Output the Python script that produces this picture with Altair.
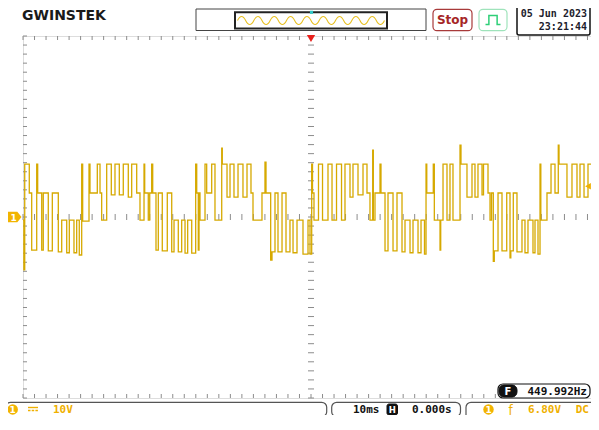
import altair as alt
import pandas as pd

# ---- CH1 trace: time (ms) and level (V), step-wise ----
t_ms = [
    0.0, 0.15, 0.3, 1.09, 1.51, 2.38, 2.55, 3.25, 3.52, 4.39, 5.09, 6.13, 6.72, 7.59, 8.04, 8.85, 9.32, 9.77,
    10.19, 10.36, 11.46, 11.63, 12.90, 13.37, 13.66, 14.53, 15.33, 15.97, 16.72, 17.41, 18.28, 18.87, 19.74,
    20.31, 21.01, 21.13, 21.75, 22.00, 22.34, 22.52,
    23.09, 23.49, 24.18, 25.05, 25.82, 26.22, 26.96, 27.55, 28.13, 28.59, 29.29,
    29.98, 30.16, 30.43, 30.56, 30.73, 31.60, 31.89, 32.76, 33.33, 34.50, 34.60, 35.42, 35.94, 36.63, 37.33,
    38.19, 38.89, 39.58, 39.93, 41.49, 42.01, 42.19,
    43.00, 43.23, 43.75, 44.27, 44.97, 45.66, 46.35, 46.88, 47.57, 48.61, 49.48, 49.83,
    50.12, 50.26, 50.52, 51.30, 52.00, 52.95, 53.65, 54.43, 55.30, 55.90, 56.77, 57.29, 58.16, 59.03, 59.72,
    60.24, 60.71, 60.82, 61.11, 61.98, 62.15,
    62.85, 63.37, 64.24, 64.93, 65.80, 66.32, 67.19, 67.71, 68.58, 69.10, 69.70,
    69.97, 70.10, 71.23, 71.41, 72.40, 72.52, 72.92, 73.61, 74.13, 74.65, 75.87, 76.04, 77.08, 77.95, 78.47,
    78.99, 79.69, 79.95, 80.73, 81.08, 81.34,
    81.65, 81.82, 82.47, 83.16, 83.98, 84.55, 84.69, 85.12, 85.76, 86.63, 87.15, 87.67, 88.54, 88.89, 89.41,
    89.76, 89.90, 90.97, 91.67, 92.36, 92.93, 93.06, 94.44, 95.31, 96.18, 96.70, 97.40, 98.09, 99.31, 100.0]
volts = [
    -0.7, -11.7, 11.7, 5.3, -7.3, 11.7, 5.3, -7.3, 5.3, -7.5, 5.3, -7.7, -0.7, -7.9, -0.7, -7.9, -0.7, -8.4,
    11.7, -0.9, 11.7, 5.3, 11.7, 5.3, -0.7, 11.7, 4.9, 11.7, 4.9, 11.7, 4.4, 11.7, 5.3,
    -0.7, 11.7, 5.3, -0.7, 5.3, 11.7, 5.3,
    -7.3, 5.3, -7.5, 5.3, -7.7, -0.7, -7.7, -0.7, -8.0, -0.7, -8.0,
    11.7, 5.3, -7.3, 5.3, -0.7, 11.7, 5.3, 11.7, -0.7, 15.2, 11.7, 4.4, 11.7, 4.4, 11.7,
    4.4, 11.7, 5.3, -0.7, 5.3, 12.1, 5.3,
    -9.5, -7.7, 5.3, -7.7, 5.3, -7.7, -0.7, -7.9, -0.7, -8.2, -0.7, -8.2,
    11.7, 5.3, -0.7, 11.7, -0.7, 11.7, -0.7, 11.7, -0.7, 11.7, 4.4, 11.7, 4.9, 11.7, 5.3,
    -0.7, 14.8, -0.7, 5.3, 11.7, 5.3,
    -7.5, 5.3, -7.5, 5.3, -7.7, -0.7, -7.9, -0.7, -7.9, -0.7, -8.2,
    11.7, 5.3, 11.7, -0.7, -7.3, -0.7, 11.7, -0.7, 11.7, -0.7, 15.9, 11.7, 4.4, 11.7, 4.4,
    11.7, 4.9, 11.7, 5.3, -0.7, 5.3,
    -9.8, -7.5, 5.3, -7.5, 5.3, -9.0, -7.5, 5.3, -7.7, -0.7, -7.9, -0.7, -7.9, -0.7, -8.2,
    11.7, -0.7, 5.3, 11.7, 5.3, 15.9, 11.7, 4.4, 11.7, 4.4, 11.7, 4.4, 11.7, 5.3, 5.3]

# ---- screen texts ----
brand = "GWINSTEK"
run_state = "Stop"
date_str = "05 Jun 2023"
clock_str = "23:21:44"
ch1_scale = "10V"
timebase = "10ms"
h_pos = "0.000s"
trig_level_txt = "6.80V"
coupling = "DC"
freq_txt = "449.992Hz"

# ---- screen geometry: 10 x 10 ms, 8 x 10 V ----
t_domain = [0, 100]
v_domain = [-40, 40]
t_major = [0, 10, 20, 30, 40, 50, 60, 70, 80, 90, 100]
v_major = [-40, -30, -20, -10, 0, 10, 20, 30, 40]
t_minor = [i * 2 for i in range(51)]
v_minor = [-40 + i * 2 for i in range(41)]
trig_pos_ms = 50
trig_level_v = 6.8

W, H = 576, 362
OX, OY = 23, 36  # page position of the plot origin


def px(x):
    return x - OX


def py(y):
    return y - OY


one = pd.DataFrame({"k": [0]})
xs = alt.Scale(domain=t_domain, nice=False, zero=False)
ys = alt.Scale(domain=v_domain, nice=False, zero=False)

TRACE = "#d6a900"
YEL = "#efb000"


def rect(x1, y1, x2, y2, stroke="#555", sw=1.0, r=0, fill="white"):
    return alt.Chart(one).mark_rect(cornerRadius=r, fill=fill, stroke=stroke, strokeWidth=sw).encode(
        x=alt.value(px(x1)), x2=alt.value(px(x2)), y=alt.value(py(y1)), y2=alt.value(py(y2)))


def text(x, y, s, color="#111", size=11, align="left", weight="bold", font="DejaVu Sans Mono", **kw):
    return alt.Chart(one).mark_text(text=s, color=color, fontSize=size, align=align, baseline="middle",
                                    fontWeight=weight, font=font, **kw).encode(
        x=alt.value(px(x)), y=alt.value(py(y)))


def sym(x, y, shape, size, fill=None, stroke=None, sw=1.0):
    kw = dict(shape=shape, size=size, opacity=1)
    if fill:
        kw.update(filled=True, fill=fill)
    else:
        kw.update(filled=False, fill="transparent")
    if stroke:
        kw.update(stroke=stroke, strokeWidth=sw)
    else:
        kw.update(strokeWidth=0)
    return alt.Chart(one).mark_point(**kw).encode(x=alt.value(px(x)), y=alt.value(py(y)))


def hline(x1, x2, y, color, sw=1.0, dash=None):
    kw = dict(color=color, strokeWidth=sw)
    if dash:
        kw.update(strokeDash=dash)
    return alt.Chart(one).mark_rule(**kw).encode(x=alt.value(px(x1)), x2=alt.value(px(x2)), y=alt.value(py(y)))


layers = []

# ---- graticule ----
wave_df = pd.DataFrame({"t": t_ms, "v": volts})
base = alt.Chart(wave_df).mark_line(interpolate="step-after", color=TRACE, strokeWidth=1.3, clip=True).encode(
    x=alt.X("t:Q", scale=xs, axis=alt.Axis(values=t_major, grid=True, gridDash=[1, 8.05], gridColor="#8c8c8c",
                                            labels=False, ticks=False, domain=False, title=None)),
    y=alt.Y("v:Q", scale=ys, axis=alt.Axis(values=v_major, grid=True, gridDash=[1, 10.52], gridColor="#8c8c8c",
                                            labels=False, ticks=False, domain=False, title=None)),
)

tdf = pd.DataFrame({"t": t_minor})
vdf = pd.DataFrame({"v": v_minor})
tick_col = "#8c8c8c"
tx = alt.X("t:Q", scale=xs, axis=None)
vy = alt.Y("v:Q", scale=ys, axis=None)
layers += [
    alt.Chart(tdf).mark_rule(color=tick_col).encode(x=tx, y=alt.value(0), y2=alt.value(4)),
    alt.Chart(tdf).mark_rule(color=tick_col).encode(x=tx, y=alt.value(H - 4), y2=alt.value(H)),
    alt.Chart(tdf).mark_rule(color=tick_col).encode(x=tx, y=alt.value(H / 2 - 3), y2=alt.value(H / 2 + 3)),
    alt.Chart(vdf).mark_rule(color=tick_col).encode(y=vy, x=alt.value(0), x2=alt.value(4)),
    alt.Chart(vdf).mark_rule(color=tick_col).encode(y=vy, x=alt.value(W - 4), x2=alt.value(W)),
    alt.Chart(vdf).mark_rule(color=tick_col).encode(y=vy, x=alt.value(W / 2 - 3), x2=alt.value(W / 2 + 3)),
]
layers.append(base)

# trigger position (top) and trigger level (right)
layers.append(alt.Chart(pd.DataFrame({"t": [trig_pos_ms]})).mark_point(
    shape="triangle-down", filled=True, fill="#e8201c", size=70, opacity=1, strokeWidth=0).encode(
    x=tx, y=alt.value(py(38.5))))
layers.append(alt.Chart(pd.DataFrame({"v": [trig_level_v]})).mark_point(
    shape="triangle-left", filled=True, fill=YEL, size=45, opacity=1, strokeWidth=0).encode(
    y=vy, x=alt.value(px(588))))

# channel 1 ground tag
layers.append(sym(14.5, 217, "M-1,-0.75 L0.4,-0.75 L1,0 L0.4,0.75 L-1,0.75 Z", 196, fill="#f2b400"))
layers.append(text(13.5, 217.5, "1", color="white", size=9, align="center", font="DejaVu Sans"))

# ---- header ----
layers.append(text(22, 16, brand, color="#1a1a1a", size=14, font="DejaVu Sans", weight="bold"))
layers.append(rect(196, 9, 426, 30.5, stroke="#444", sw=1))
layers.append(rect(235, 12.3, 387, 28.5, stroke="#222", sw=2))
wave_icon = "M-1,0 " + "Q-0.9444,-0.11 -0.8889,0 " + " ".join(
    "T%.4f,0" % (-0.8889 + 0.1111 * (i + 1)) for i in range(17))
layers.append(sym(311, 20.5, wave_icon, 147 ** 2, stroke="#e8c020", sw=1.1))
layers.append(sym(311.5, 12.3, "square", 10, fill="#30c8c8"))

layers.append(rect(433, 9.3, 472, 30.7, stroke="#a83a3a", sw=1.2, r=4))
layers.append(text(452.5, 20, run_state, color="#a52626", size=12, align="center", font="DejaVu Sans"))
layers.append(rect(479, 9.3, 507, 30.7, stroke="#9fe3bb", sw=1.2, r=4))
layers.append(sym(493, 20, "M-1,0.6 L-0.55,0.6 L-0.55,-0.6 L0.55,-0.6 L0.55,0.6 L1,0.6", 15 ** 2,
                  stroke="#2fcf78", sw=1.5))
layers.append(rect(517, 5, 590, 35, stroke="#111", sw=1.5, r=2))
layers.append(text(587, 13.5, date_str, color="#1c1c2c", size=10, align="right"))
layers.append(text(587, 26.5, clock_str, color="#1c1c2c", size=10, align="right"))

# ---- bottom bar ----
layers.append(rect(498, 384, 590, 398, stroke="#111", sw=1.2, r=5))
layers.append(rect(499, 385, 517, 397, stroke="#111", sw=1, r=5, fill="#111"))
layers.append(text(508, 391.5, "F", color="white", size=10, align="center", font="DejaVu Sans"))
layers.append(text(587, 391.5, freq_txt, color="#111", size=11, align="right"))

layers.append(rect(5.5, 402.3, 326.7, 416.7, stroke="#555", sw=1.2, r=5))
layers.append(sym(12.7, 409.4, "circle", 110, fill="#f2b400"))
layers.append(text(12.7, 409.8, "1", color="white", size=9, align="center", font="DejaVu Sans"))
layers.append(hline(28, 38, 407.5, YEL, sw=1.4))
layers.append(hline(28, 38, 410.5, YEL, sw=1.4, dash=[2.5, 1.2]))
layers.append(text(53, 409.5, ch1_scale, color=YEL, size=11))

layers.append(rect(331.7, 402.3, 460.5, 416.7, stroke="#555", sw=1.2, r=5))
layers.append(text(353, 409.5, timebase, color="#111", size=11))
layers.append(rect(387, 404, 397.5, 415, stroke="#111", sw=1, r=2, fill="#111"))
layers.append(text(392.3, 409.8, "H", color="white", size=8.5, align="center", font="DejaVu Sans"))
layers.append(text(412, 409.5, h_pos, color="#111", size=11))

layers.append(rect(466, 402.3, 604, 440, stroke="#555", sw=1.2, r=5))
layers.append(sym(488.5, 409.4, "circle", 110, fill="#f2b400"))
layers.append(text(488.5, 409.8, "1", color="white", size=9, align="center", font="DejaVu Sans"))
layers.append(text(510.5, 409.5, "\u0192", color=YEL, size=12, align="center", font="DejaVu Sans", weight="normal"))
layers.append(text(528, 409.5, trig_level_txt, color=YEL, size=11))
layers.append(text(589, 409.5, coupling, color=YEL, size=11, align="right"))

chart = alt.layer(*layers).properties(
    width=W, height=H, autosize="none",
    padding={"left": OX - 8, "top": OY - 8, "right": -8, "bottom": 17},
).configure_view(stroke="#8a8a8a", strokeWidth=1).configure(background="white")

chart.save("out.html", embed_options={"renderer": "svg", "actions": False})
